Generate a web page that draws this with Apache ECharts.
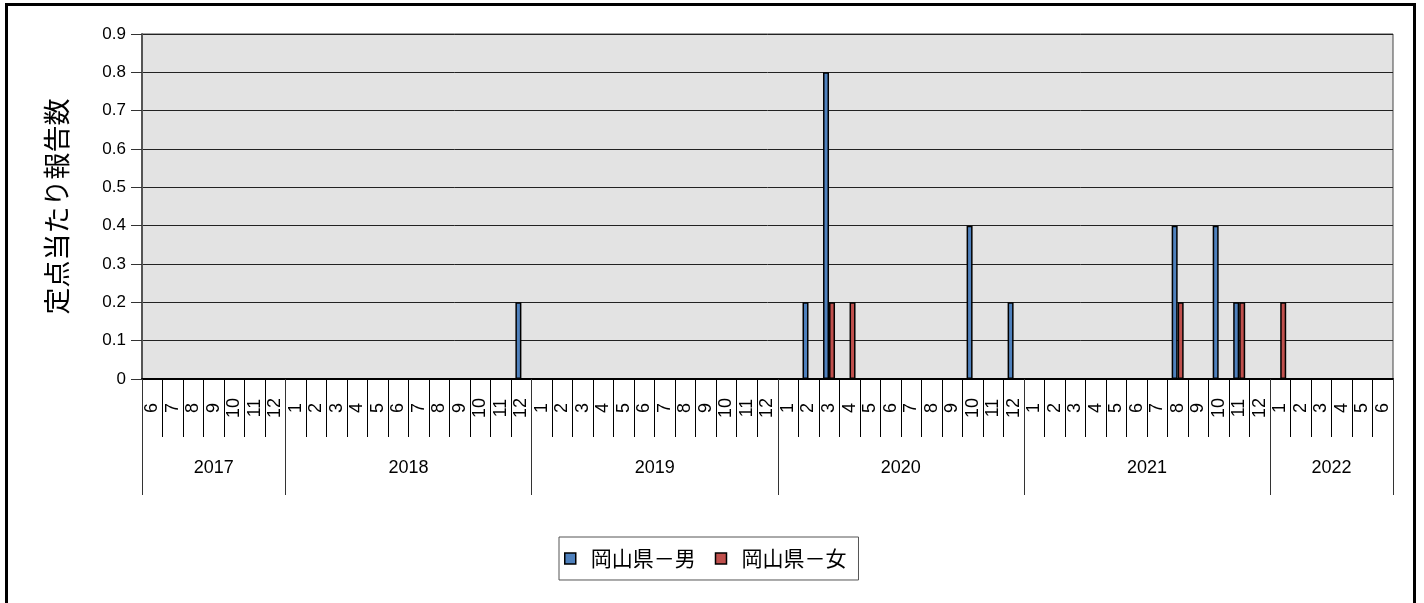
<!DOCTYPE html>
<html>
<head>
<meta charset="utf-8">
<script src="https://cdn.jsdelivr.net/npm/echarts@6/dist/echarts.min.js"></script>
<style>
  html, body { margin: 0; padding: 0; background: #fff; }
  #chart { position: absolute; left: 0; top: 0; width: 1424px; height: 603px; }
  #frame { position: absolute; left: 5px; top: 3px; width: 1405px; height: 597px;
           border-left: 3px solid #000; border-top: 3px solid #000; border-right: 3px solid #000;
           border-bottom: 1px solid #777; pointer-events: none; }
</style>
</head>
<body>
<div id="chart"></div>
<div id="frame"></div>
<script>
// ---- data ----
const years = ['2017', '2018', '2019', '2020', '2021', '2022'];
const yearMonthCounts = [7, 12, 12, 12, 12, 6];
const months = [
  '6','7','8','9','10','11','12',
  '1','2','3','4','5','6','7','8','9','10','11','12',
  '1','2','3','4','5','6','7','8','9','10','11','12',
  '1','2','3','4','5','6','7','8','9','10','11','12',
  '1','2','3','4','5','6','7','8','9','10','11','12',
  '1','2','3','4','5','6'
];
const seriesNames = ['岡山県－男', '岡山県－女'];
const male = [
  0,0,0,0,0,0,0,
  0,0,0,0,0,0,0,0,0,0,0,0.2,
  0,0,0,0,0,0,0,0,0,0,0,0,
  0,0.2,0.8,0,0,0,0,0,0,0.4,0,0.2,
  0,0,0,0,0,0,0,0.4,0,0.4,0.2,0,
  0,0,0,0,0,0
];
const female = [
  0,0,0,0,0,0,0,
  0,0,0,0,0,0,0,0,0,0,0,0,
  0,0,0,0,0,0,0,0,0,0,0,0,
  0,0,0.2,0.2,0,0,0,0,0,0,0,0,
  0,0,0,0,0,0,0,0.2,0,0,0.2,0,
  0.2,0,0,0,0,0
];
const yTicks = { min: 0, max: 0.9, interval: 0.1 };

// ---- derived: year boundaries & centres ----
const boundaries = [];
const centres = {};
let acc = 0;
yearMonthCounts.forEach((n, i) => {
  boundaries.push(acc);
  centres[(acc + n / 2).toFixed(1)] = years[i];
  acc += n;
});
const total = acc;

const chart = echarts.init(document.getElementById('chart'));
const font = 'Liberation Sans, Arial, sans-serif';
const jp = 'Noto Sans CJK JP, sans-serif';
chart.setOption({
  animation: false,
  textStyle: { fontFamily: font, color: '#000' },
  grid: {
    left: 142, top: 34, right: 31, bottom: 224,
    show: true, backgroundColor: '#E3E3E3', borderColor: '#444', borderWidth: 1
  },
  legend: {
    data: seriesNames,
    left: 559, top: 537,
    orient: 'horizontal',
    padding: [11, 12, 11, 5],
    itemGap: 19,
    itemWidth: 11, itemHeight: 11,
    icon: 'rect',
    itemStyle: { borderColor: '#000', borderWidth: 1.5 },
    borderColor: '#555', borderWidth: 1,
    backgroundColor: '#fff',
    textStyle: { fontSize: 21, color: '#000', fontFamily: jp, padding: [0, 0, 0, 10] }
  },
  xAxis: [
    {
      type: 'category',
      data: months,
      position: 'bottom',
      axisLine: { show: true, lineStyle: { color: '#000', width: 2 } },
      axisTick: { show: true, interval: 0, length: 58, lineStyle: { color: '#000', width: 1 } },
      axisLabel: {
        interval: 0, rotate: 90, margin: 29, align: 'center', verticalAlign: 'middle',
        fontSize: 18, color: '#000', fontFamily: font
      },
      splitLine: { show: false }
    },
    {
      type: 'category',
      data: months,
      position: 'bottom',
      axisLine: { show: false },
      axisTick: {
        show: true, length: 116,
        interval: function (index) { return boundaries.indexOf(index) !== -1; },
        lineStyle: { color: '#333', width: 1 }
      },
      axisLabel: { show: false },
      splitLine: { show: false }
    },
    {
      type: 'value',
      min: 0, max: total, interval: 0.5,
      position: 'bottom',
      axisLine: { show: false },
      axisTick: { show: false },
      splitLine: { show: false },
      axisLabel: {
        margin: 80, fontSize: 18, color: '#000', fontFamily: font,
        showMinLabel: true, showMaxLabel: true,
        formatter: function (v) { return centres[v.toFixed(1)] || ''; }
      }
    }
  ],
  yAxis: {
    type: 'value',
    min: yTicks.min, max: yTicks.max, interval: yTicks.interval,
    name: '定点当たり報告数',
    nameLocation: 'middle',
    nameGap: 72,
    nameTextStyle: { fontSize: 27, color: '#000', fontFamily: jp },
    axisLine: { show: true, lineStyle: { color: '#555', width: 2 } },
    axisTick: { show: true, length: 11, lineStyle: { color: '#333', width: 1 } },
    axisLabel: {
      margin: 16, fontSize: 17, color: '#000', fontFamily: font,
      formatter: function (v) { return v === 0 ? '0' : v.toFixed(1); }
    },
    splitLine: { show: true, lineStyle: { color: '#222', width: 1 } }
  },
  series: [
    {
      name: seriesNames[0], type: 'bar', xAxisIndex: 0, data: male,
      barWidth: 6, barGap: '0%',
      itemStyle: { color: '#4F81BD', borderColor: '#000', borderWidth: 1.5 }
    },
    {
      name: seriesNames[1], type: 'bar', xAxisIndex: 0, data: female,
      barWidth: 6, barGap: '0%',
      itemStyle: { color: '#C0504D', borderColor: '#000', borderWidth: 1.5 }
    }
  ]
});
</script>
</body>
</html>
